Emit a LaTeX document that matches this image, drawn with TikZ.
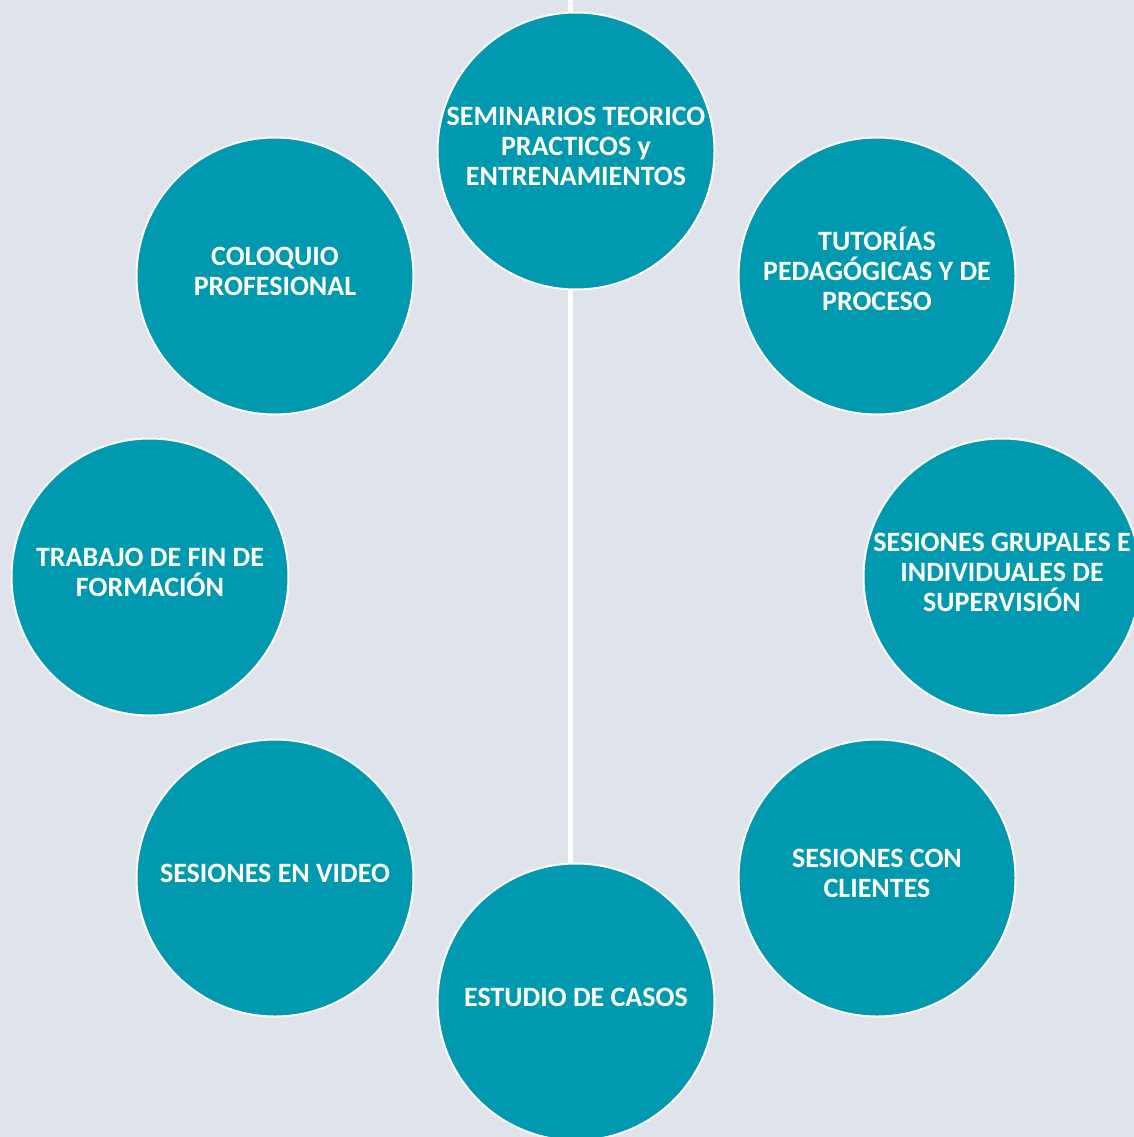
\documentclass[tikz,border=0pt]{standalone}
\usepackage{fontspec}
\setmainfont{Carlito}
\usetikzlibrary{backgrounds}
\definecolor{bgc}{HTML}{DFE3EB}
\definecolor{teal}{HTML}{0099AF}
\tikzset{
  bubble/.style={circle, fill=teal, draw=white, line width=2pt, minimum size=277pt, inner sep=0pt},
  txt/.style={text=white, align=center, font=\fontsize{28}{30}\selectfont\bfseries, inner sep=0pt},
  spine/.style={draw=white, line width=5pt}
}
\begin{document}
\begin{tikzpicture}[x=1pt,y=-1pt]
\useasboundingbox (0,0) rectangle (1134,1137);
\clip (0,0) rectangle (1134,1137);
\coordinate (ltop) at (570,0);
\node[bubble] (c1) at (576,151) {};
\node[bubble] (c2) at (877,276) {};
\node[bubble] (c3) at (1002,577) {};
\node[bubble] (c4) at (877,878) {};
\node[bubble] (c5) at (576,1002) {};
\node[bubble] (c6) at (275,878) {};
\node[bubble] (c7) at (150,577) {};
\node[bubble] (c8) at (275,276) {};
\begin{scope}[on background layer]
\fill[bgc] (0,0) rectangle (1134,1137);
\draw[spine] (ltop) -- (ltop |- c5.north);
\end{scope}
\node[txt] (t1) at ([yshift=5pt]c1.center) {SEMINARIOS TEORICO\\PRACTICOS y\\ENTRENAMIENTOS};
\node[txt] (t2) at ([yshift=5pt]c2.center) {TUTOR\smash{Í}AS\\PEDAG\smash{Ó}GICAS Y DE\\PROCESO};
\node[txt] (t3) at ([yshift=5pt]c3.center) {SESIONES GRUPALES E\\INDIVIDUALES DE\\SUPERVISI\smash{Ó}N};
\node[txt] (t4) at ([yshift=5pt]c4.center) {SESIONES CON\\CLIENTES};
\node[txt] (t5) at ([yshift=5pt]c5.center) {ESTUDIO DE CASOS};
\node[txt] (t6) at ([yshift=5pt]c6.center) {SESIONES EN VIDEO};
\node[txt] (t7) at ([yshift=5pt]c7.center) {TRABAJO DE FIN DE\\FORMACI\smash{Ó}N};
\node[txt] (t8) at ([yshift=5pt]c8.center) {COLOQUIO\\PROFESIONAL};
\end{tikzpicture}
\end{document}
